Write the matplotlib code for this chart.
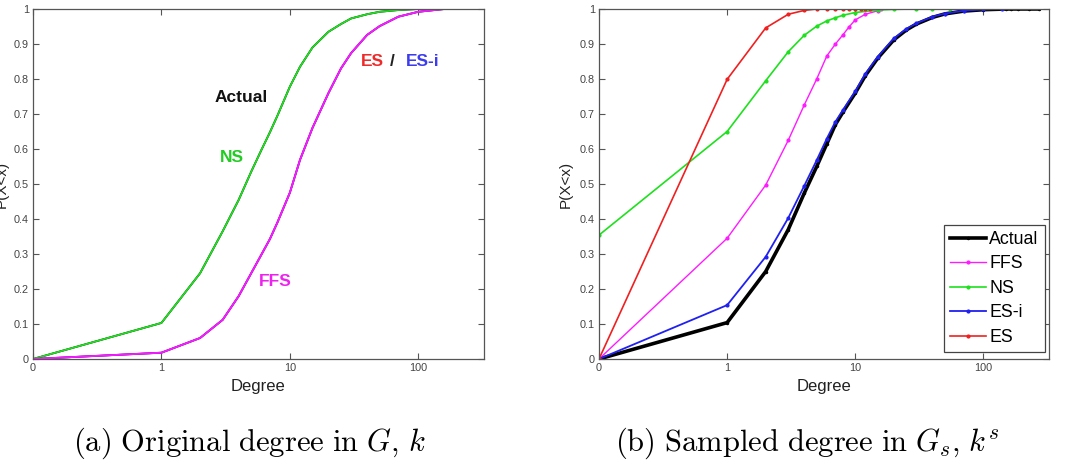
import numpy as np
import matplotlib
matplotlib.use('Agg')
import matplotlib.pyplot as plt

plt.rcParams['font.family'] = ['Liberation Sans', 'DejaVu Sans']
plt.rcParams['mathtext.fontset'] = 'cm'

# ---------------- (a) Original degree in G ----------------
deg_a = [0, 1, 2, 3, 4, 5, 6, 7, 8, 10, 12, 15, 20, 25, 30, 40, 50, 70, 100, 160]
actual_a = [0.0, 0.103, 0.245, 0.365, 0.455, 0.535, 0.597, 0.648, 0.695, 0.778,
            0.835, 0.89, 0.935, 0.957, 0.973, 0.985, 0.992, 0.997, 1.0, 1.0]
ns_a = [0.0, 0.103, 0.245, 0.365, 0.455, 0.535, 0.597, 0.648, 0.695, 0.778,
        0.835, 0.89, 0.935, 0.957, 0.973, 0.985, 0.992, 0.997, 1.0, 1.0]
es_a = [0.0, 0.018, 0.06, 0.112, 0.18, 0.245, 0.298, 0.343, 0.39, 0.475,
        0.569, 0.66, 0.76, 0.83, 0.874, 0.926, 0.951, 0.978, 0.992, 1.0]
esi_a = [0.0, 0.018, 0.06, 0.112, 0.18, 0.245, 0.298, 0.343, 0.39, 0.475,
         0.569, 0.66, 0.76, 0.83, 0.874, 0.926, 0.951, 0.978, 0.992, 1.0]
ffs_a = [0.0, 0.018, 0.06, 0.112, 0.18, 0.245, 0.298, 0.343, 0.39, 0.475,
         0.569, 0.66, 0.76, 0.83, 0.874, 0.926, 0.951, 0.978, 0.992, 1.0]

# ---------------- (b) Sampled degree in Gs ----------------
deg_act_b = [0, 1, 2, 3, 4, 5, 6, 7, 8, 10, 12, 15, 20, 25, 30, 40, 50, 70, 100, 150,
             165, 185, 225, 270]
actual_b = [0.0, 0.104, 0.25, 0.37, 0.474, 0.55, 0.615, 0.67, 0.705, 0.76, 0.81, 0.86,
            0.912, 0.94, 0.957, 0.976, 0.986, 0.994, 0.998, 1.0, 1.0, 1.0, 1.0, 1.0]
deg_esi_b = [0, 1, 2, 3, 4, 5, 6, 7, 8, 10, 12, 15, 20, 25, 30, 40, 50, 70, 100, 140]
esi_b = [0.0, 0.154, 0.292, 0.403, 0.495, 0.568, 0.63, 0.678, 0.711, 0.765, 0.815, 0.864,
         0.916, 0.943, 0.959, 0.978, 0.987, 0.995, 0.999, 1.0]
deg_ffs_b = [0, 1, 2, 3, 4, 5, 6, 7, 8, 9, 10, 12, 15, 16]
ffs_b = [0.0, 0.345, 0.497, 0.625, 0.726, 0.80, 0.866, 0.90, 0.926, 0.95, 0.969, 0.985,
         0.995, 1.0]
deg_ns_b = [0, 1, 2, 3, 4, 5, 6, 7, 8, 10, 15, 20, 30, 40, 55]
ns_b = [0.354, 0.65, 0.795, 0.878, 0.925, 0.951, 0.966, 0.975, 0.982, 0.99, 0.997, 0.999,
        1.0, 1.0, 1.0]
deg_es_b = [0, 1, 2, 3, 4, 5, 6, 7, 8, 9, 10, 11, 12, 13]
es_b = [0.0, 0.799, 0.946, 0.985, 0.996, 1.0, 1.0, 1.0, 1.0, 1.0, 1.0, 1.0, 1.0, 1.0]

xticks = [0, 1, 10, 100]
xticklabels = ['0', '1', '10', '100']
yticks = [0, 0.1, 0.2, 0.3, 0.4, 0.5, 0.6, 0.7, 0.8, 0.9, 1]
yticklabels = ['0', '0.1', '0.2', '0.3', '0.4', '0.5', '0.6', '0.7', '0.8', '0.9', '1']

C_BLACK = '#000000'
C_GREEN = '#1ee01e'
C_BLUE = '#2020f0'
C_RED = '#f02020'
C_MAG = '#ff1aff'
FRAME = '#555555'
TICKC = '#444444'

W, H = 1065, 468
fig = plt.figure(figsize=(W / 100, H / 100), dpi=100)
axa = fig.add_axes([33 / W, 1 - 359 / H, (484 - 33) / W, 350 / H])
axb = fig.add_axes([599 / W, 1 - 359 / H, (1049 - 599) / W, 350 / H])


def style(ax):
    ax.set_xscale('symlog', linthresh=1, linscale=0.9)
    ax.set_xlim(0, 325)
    ax.set_ylim(0, 1)
    ax.set_xticks(xticks)
    ax.set_xticklabels(xticklabels)
    ax.set_yticks(yticks)
    ax.set_yticklabels(yticklabels)
    ax.xaxis.set_minor_locator(matplotlib.ticker.NullLocator())
    ax.tick_params(direction='in', top=True, right=True, length=4, width=0.8,
                   color=FRAME, labelcolor=TICKC, labelsize=7.8, pad=3)
    for s in ax.spines.values():
        s.set_color(FRAME)
        s.set_linewidth(0.9)
    ax.set_xlabel('Degree', fontsize=12, color='#222222')
    ax.xaxis.set_label_coords(0.5, -(379 - 359) / 350)
    ax.xaxis.label.set_va('top')
    ax.set_ylabel('P(X<x)', fontsize=11, color='#222222')
    ax.yaxis.label.set_va('center')


style(axa)
style(axb)
axa.yaxis.set_label_coords(-31 / 451, 0.5)
axb.yaxis.set_label_coords(-33 / 450, 0.5)

# (a)
axa.plot(deg_a, actual_a, color=C_BLACK, lw=1.3)
axa.plot(deg_a, ns_a, color=C_GREEN, lw=1.3)
axa.plot(deg_a, es_a, color=C_RED, lw=1.3)
axa.plot(deg_a, esi_a, color=C_BLUE, lw=1.3)
axa.plot(deg_a, ffs_a, color=C_MAG, lw=1.3)

axa.text(4.2, 0.746, 'Actual', color='#111111', fontsize=12.5, fontweight='bold',
         ha='center', va='center')
axa.text(3.51, 0.577, 'NS', color='#22cc22', fontsize=12.5, fontweight='bold',
         ha='center', va='center')
axa.text(7.74, 0.22, 'FFS', color='#ee22ee', fontsize=12.5, fontweight='bold',
         ha='center', va='center')
axa.text(44.1, 0.849, 'ES', color='#ee2a2a', fontsize=12.5, fontweight='bold',
         ha='center', va='center')
axa.text(63.2, 0.849, '/', color='#222222', fontsize=12.5, fontweight='bold',
         ha='center', va='center')
axa.text(108, 0.849, 'ES-i', color='#3c3cee', fontsize=12.5, fontweight='bold',
         ha='center', va='center')

# (b)
axb.plot(deg_act_b, actual_b, color=C_BLACK, lw=2.6, marker='.', ms=3, label='Actual')
axb.plot(deg_ffs_b, ffs_b, color=C_MAG, lw=1.0, marker='.', ms=4, label='FFS')
axb.plot(deg_ns_b, ns_b, color=C_GREEN, lw=1.2, marker='.', ms=4, label='NS')
axb.plot(deg_esi_b, esi_b, color=C_BLUE, lw=1.3, marker='.', ms=4, label='ES-i')
axb.plot(deg_es_b, es_b, color=C_RED, lw=1.2, marker='.', ms=4, label='ES')

leg = axb.legend(loc='lower right', bbox_to_anchor=(1 - 4 / 450, 7 / 350),
                 borderaxespad=0, fontsize=12.8, handlelength=2.0,
                 handletextpad=0.2, labelspacing=0.42, borderpad=0.35,
                 fancybox=False, framealpha=1, edgecolor='#444444')
leg.get_frame().set_linewidth(0.9)

fig.text(249 / W, 1 - 443 / H, r'$\mathrm{(a)\ Original\ degree\ in\ }G\mathrm{,}\ k$',
         fontsize=22, ha='center', va='center')
fig.text(807 / W, 1 - 443 / H, r'$\mathrm{(b)\ Sampled\ degree\ in\ }G_s\mathrm{,}\ k^s$',
         fontsize=22, ha='center', va='center')

fig.savefig('out.png', dpi=100)
